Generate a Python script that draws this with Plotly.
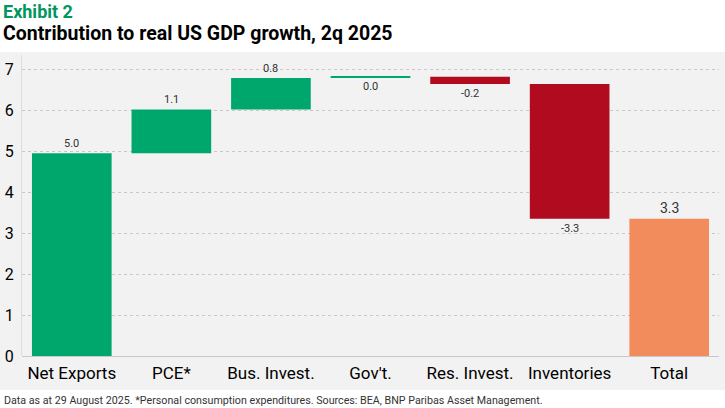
import plotly.graph_objects as go

# contributions, percentage points
categories = ['Net Exports', 'PCE*', 'Bus. Invest.', "Gov't.", 'Res. Invest.', 'Inventories', 'Total']
contrib = [4.95, 1.07, 0.77, 0.03, -0.18, -3.29]
labels = ['5.0', '1.1', '0.8', '0.0', '-0.2', '-3.3', '3.3']
y_ticks = [0, 1, 2, 3, 4, 5, 6, 7]

GREEN = '#00a76d'
RED = '#b00b1e'
ORANGE = '#f28c5c'
PANEL = '#f2f2f2'
FONT = 'Roboto, sans-serif'

measures = ['relative'] * len(contrib) + ['total']

fig = go.Figure()
fig.add_trace(go.Waterfall(
    x=categories,
    y=contrib + [0],
    measure=measures,
    increasing=dict(marker=dict(color=GREEN, line=dict(color=GREEN, width=0))),
    decreasing=dict(marker=dict(color=RED, line=dict(color=RED, width=0))),
    totals=dict(marker=dict(color=ORANGE, line=dict(color=ORANGE, width=0))),
    connector=dict(visible=False, line=dict(width=0)),
    textposition='none',
    showlegend=False,
))

# value labels at the end of each bar
running = 0.0
for i, cat in enumerate(categories):
    if cat == 'Total':
        fig.add_annotation(x=cat, y=running, text=labels[i], showarrow=False,
                           yanchor='bottom', yshift=1,
                           font=dict(family=FONT, size=14, color='#333333'))
        continue
    running += contrib[i]
    below = contrib[i] < 0 or cat == "Gov't."
    fig.add_annotation(x=cat, y=running, text=labels[i], showarrow=False,
                       yanchor='top' if below else 'bottom',
                       yshift=-1 if below else 1,
                       font=dict(family=FONT, size=11, color='#333333'))

# white header / footer strips over the grey paper
fig.add_shape(type='rect', xref='paper', yref='paper',
              x0=-0.05, x1=1.05, y0=1.01, y1=1.3,
              fillcolor='white', line=dict(width=0), layer='above')
fig.add_shape(type='rect', xref='paper', yref='paper',
              x0=-0.05, x1=1.05, y0=-0.2, y1=-0.113,
              fillcolor='white', line=dict(width=0), layer='above')

fig.add_annotation(text='<b>Exhibit 2</b>', xref='paper', yref='paper',
                   x=-0.028, y=1.146, xanchor='left', yanchor='middle', showarrow=False,
                   borderpad=0, font=dict(family=FONT, size=18, color='#00965e'))
fig.add_annotation(text='<b>Contribution to real US GDP growth, 2q 2025</b>', xref='paper', yref='paper',
                   x=-0.028, y=1.0698, xanchor='left', yanchor='middle', showarrow=False,
                   borderpad=0, font=dict(family=FONT, size=19.5, color='#000000'))
fig.add_annotation(text='Data as at 29 August 2025. *Personal consumption expenditures. Sources: BEA, BNP Paribas Asset Management.',
                   xref='paper', yref='paper', x=-0.028, y=-0.148, xanchor='left', yanchor='middle',
                   showarrow=False, font=dict(family=FONT, size=10.7, color='#333333'))

fig.update_layout(
    width=725, height=408,
    margin=dict(l=22, r=6, t=55, b=52),
    paper_bgcolor=PANEL,
    plot_bgcolor=PANEL,
    bargap=0.18,
    font=dict(family=FONT),
)
fig.update_xaxes(showgrid=False, ticks='', tickfont=dict(size=17, color='#000000'),
                 showline=False, ticklabelstandoff=5)
fig.update_yaxes(range=[0, 7.35], tickvals=y_ticks, showgrid=True,
                 gridcolor='#c8c8c8', griddash='dot', gridwidth=1,
                 zeroline=True, zerolinecolor='#c8c8c8', zerolinewidth=1,
                 showline=True, linecolor='#dddddd', linewidth=1,
                 tickfont=dict(size=16, color='#000000'), ticks='', ticklabelstandoff=4)

fig.write_html('out.html', config={'displayModeBar': False},
               post_script="document.body.style.margin='0';")
